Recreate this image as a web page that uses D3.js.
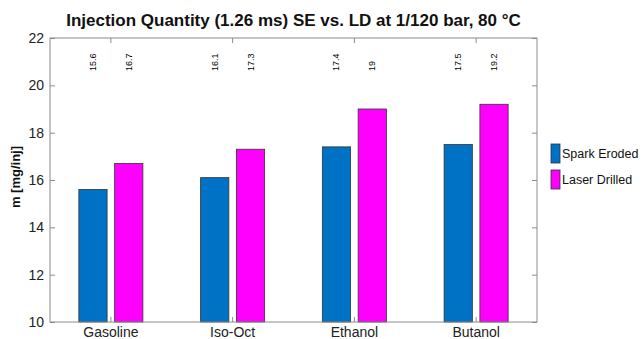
<!DOCTYPE html>
<html><head><meta charset="utf-8">
<script src="https://cdn.jsdelivr.net/npm/d3@7"></script>
<style>
html,body{margin:0;padding:0;background:#fff;}
text{font-family:"Liberation Sans",Arial,sans-serif;}
</style></head>
<body>
<svg id="chart" width="641" height="339"></svg>
<script>
const fuels = ["Gasoline", "Iso-Oct", "Ethanol", "Butanol"];
const seriesNames = ["Spark Eroded", "Laser Drilled"];
const sparkEroded = [15.6, 16.1, 17.4, 17.5];
const laserDrilled = [16.7, 17.3, 19, 19.2];
const valueLabels = [["15.6", "16.1", "17.4", "17.5"], ["16.7", "17.3", "19", "19.2"]];
const yTicks = [10, 12, 14, 16, 18, 20, 22];
const colors = ["#0072c6", "#ff00ff"];

const svg = d3.select("#chart");
const m = {left: 50, top: 38, right: 537, bottom: 322};

const x = d3.scaleBand().domain(fuels).range([m.left, m.right]).padding(0);
const y = d3.scaleLinear().domain([10, 22]).range([m.bottom, m.top]);
const bw = x.bandwidth();
const barW = bw * 0.232;
const offsets = [-bw * 0.147, bw * 0.147];
const series = [sparkEroded, laserDrilled];

// bars
series.forEach((vals, si) => {
  svg.append("g").selectAll("rect").data(vals).join("rect")
    .attr("x", (d, i) => x(fuels[i]) + bw / 2 + offsets[si] - barW / 2)
    .attr("y", d => y(d))
    .attr("width", barW)
    .attr("height", d => y(10) - y(d))
    .attr("fill", colors[si])
    .attr("stroke", "#333")
    .attr("stroke-width", 0.8);
});

// value labels along the top, rotated
series.forEach((vals, si) => {
  svg.append("g").selectAll("text").data(vals).join("text")
    .attr("transform", (d, i) => `translate(${x(fuels[i]) + bw / 2 + offsets[si] + 3},71) rotate(-90)`)
    .attr("font-size", 9)
    .attr("fill", "#000")
    .text((d, i) => valueLabels[si][i]);
});

// frame
svg.append("rect").attr("x", m.left).attr("y", m.top)
  .attr("width", m.right - m.left).attr("height", m.bottom - m.top)
  .attr("fill", "none").attr("stroke", "#8c8c8c").attr("stroke-width", 1);

// y axes (left and right, ticks inside)
const yAxisL = d3.axisLeft(y).tickValues(yTicks).tickSize(-5).tickPadding(6).tickFormat(d3.format("d"));
const gL = svg.append("g").attr("transform", `translate(${m.left},0)`).call(yAxisL);
gL.select(".domain").remove();
gL.selectAll("line").attr("stroke", "#8c8c8c");
gL.selectAll("text").attr("font-size", 14).attr("fill", "#222")
  .attr("font-family", "'Liberation Sans',Arial,sans-serif");

const yAxisR = d3.axisRight(y).tickValues(yTicks).tickSize(-5).tickFormat("");
const gR = svg.append("g").attr("transform", `translate(${m.right},0)`).call(yAxisR);
gR.select(".domain").remove();
gR.selectAll("line").attr("stroke", "#8c8c8c");

// x axes (bottom and top)
const xAxisB = d3.axisBottom(x).tickSize(-5).tickPadding(5);
const gB = svg.append("g").attr("transform", `translate(0,${m.bottom})`).call(xAxisB);
gB.select(".domain").remove();
gB.selectAll("line").attr("stroke", "#8c8c8c");
gB.selectAll("text").attr("font-size", 14).attr("fill", "#222")
  .attr("font-family", "'Liberation Sans',Arial,sans-serif");

const xAxisT = d3.axisTop(x).tickSize(-5).tickFormat("");
const gT = svg.append("g").attr("transform", `translate(0,${m.top})`).call(xAxisT);
gT.select(".domain").remove();
gT.selectAll("line").attr("stroke", "#8c8c8c");

// title
svg.append("text").attr("x", (m.left + m.right) / 2).attr("y", 26).attr("text-anchor", "middle")
  .attr("font-size", 17).attr("font-weight", "bold").attr("fill", "#111")
  .text("Injection Quantity (1.26 ms) SE vs. LD at 1/120 bar, 80 °C");

// y label
svg.append("text").attr("transform", "translate(20,177) rotate(-90)")
  .attr("text-anchor", "middle").attr("font-size", 13).attr("font-weight", "bold")
  .attr("fill", "#111").text("m [mg/inj]");

// legend
const lg = svg.append("g");
seriesNames.forEach((name, i) => {
  const yy = 144 + i * 26;
  lg.append("rect").attr("x", 551).attr("y", yy).attr("width", 9).attr("height", 19)
    .attr("fill", colors[i]).attr("stroke", "#333").attr("stroke-width", 0.8);
  lg.append("text").attr("x", 562).attr("y", yy + 14).attr("font-size", 12.5)
    .attr("fill", "#111").text(name);
});
</script>
</body></html>
